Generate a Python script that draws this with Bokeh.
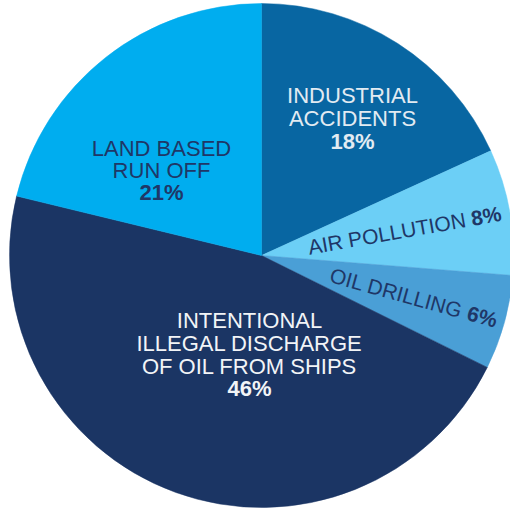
import math
from bokeh.plotting import figure
from bokeh.models import Range1d
from bokeh.core.properties import value
from bokeh.embed import file_html
from bokeh.resources import INLINE

# ---- data ----
categories = ["INDUSTRIAL ACCIDENTS", "AIR POLLUTION", "OIL DRILLING",
              "INTENTIONAL ILLEGAL DISCHARGE OF OIL FROM SHIPS", "LAND BASED RUN OFF"]
values = [18, 8, 6, 46, 21]
pct_labels = ["18%", "8%", "6%", "46%", "21%"]
colors = ["#0866a2", "#6ccff6", "#4a9fd6", "#1b3564", "#00adef"]

W, H = 510, 508
CX, CY, R = 261, H - 255, 252
FONT = value("Liberation Sans")
FS = "22px"
FS_RAY = "21px"
DARK = "#1f3767"

p = figure(width=W, height=H, x_range=Range1d(0, W), y_range=Range1d(0, H),
           output_backend="svg", toolbar_location=None, min_border=0)
p.axis.visible = False
p.grid.visible = False
p.outline_line_color = None
p.background_fill_color = "white"

total = sum(values)
cum = 0
starts, ends, mids = [], [], []
for v in values:
    a0 = math.pi / 2 - 2 * math.pi * cum / total
    cum += v
    a1 = math.pi / 2 - 2 * math.pi * cum / total
    starts.append(a0)
    ends.append(a1)
    mids.append((a0 + a1) / 2)

p.wedge(x=[CX] * len(values), y=[CY] * len(values), radius=R,
        start_angle=starts, end_angle=ends, direction="clock",
        fill_color=colors, line_color=colors, line_width=0.5)


def line_text(x, py, t, color, bold=False):
    p.text(x=[x], y=[H - py], text=[t], text_font=FONT, text_font_size=FS,
           text_color=color, text_align="center", text_baseline="middle",
           text_font_style="bold" if bold else "normal")


# industrial accidents
for i, t in enumerate(["INDUSTRIAL", "ACCIDENTS"]):
    line_text(352, 95 + 23 * i, t, "#e2ebf2")
line_text(352, 141, pct_labels[0], "#e2ebf2", bold=True)

# land based run off
for i, t in enumerate(["LAND BASED", "RUN OFF"]):
    line_text(161, 148 + 22 * i, t, DARK)
line_text(161, 192, pct_labels[4], DARK, bold=True)

# intentional discharge
for i, t in enumerate(["INTENTIONAL", "ILLEGAL DISCHARGE", "OF OIL FROM SHIPS"]):
    line_text(249, 320 + 23 * i, t, "#f2f4f7")
line_text(249, 388, pct_labels[3], "#f2f4f7", bold=True)


# rotated labels for the two thin slices
def ray_label(idx, name, r_anchor):
    ang = mids[idx]
    ax = CX + r_anchor * math.cos(ang)
    ay = CY + r_anchor * math.sin(ang)
    p.text(x=[ax], y=[ay], text=[name + " "], angle=ang, text_font=FONT,
           text_font_size=FS_RAY, text_color=DARK, text_align="right",
           text_baseline="middle")
    p.text(x=[ax], y=[ay], text=[pct_labels[idx]], angle=ang, text_font=FONT,
           text_font_size=FS_RAY, text_color=DARK, text_align="left",
           text_baseline="middle", text_font_style="bold")


ray_label(1, "AIR POLLUTION", 213)
ray_label(2, "OIL DRILLING", 214)

open("out.html", "w").write(file_html(p, INLINE))
